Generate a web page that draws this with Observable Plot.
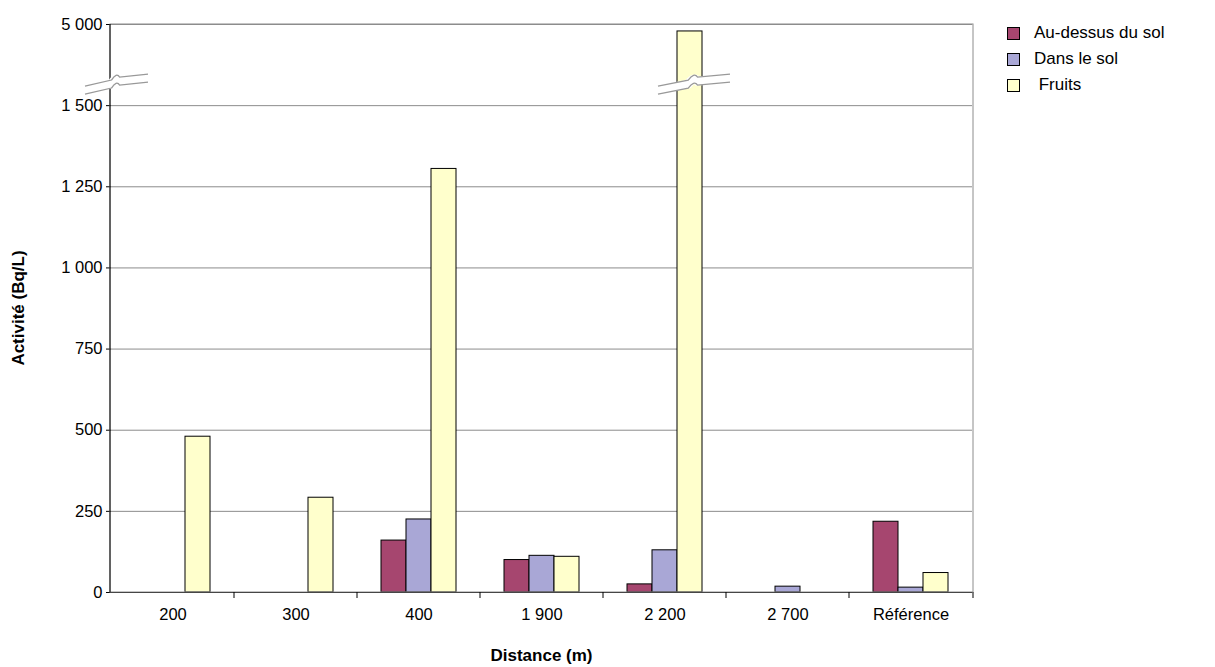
<!DOCTYPE html>
<html><head><meta charset="utf-8">
<script src="https://cdn.jsdelivr.net/npm/d3@7"></script>
<script src="https://cdn.jsdelivr.net/npm/@observablehq/plot@0.6"></script>
<style>
body{margin:0;font-family:"Liberation Sans",Arial,sans-serif;background:#fff}
#wrap{position:relative;width:1215px;height:667px}
#legend{position:absolute;left:1007px;top:20px;font-size:17px}
#legend div{display:flex;align-items:center;height:26px}
#legend span.sw{width:11px;height:11px;border:1px solid #000;margin-right:14px;display:inline-block}
</style></head><body>
<div id="wrap"><div id="legend"></div></div>
<script>
const distances = ["200", "300", "400", "1 900", "2 200", "2 700", "Référence"];
const series = ["Au-dessus du sol", "Dans le sol", "Fruits"];
const colors = ["#a6466f", "#a9a7d6", "#ffffcc"];
const aboveGround = [0, 0, 160, 100, 25, 0, 218];
const inGround = [0, 0, 225, 113, 130, 18, 15];
const fruits = [480, 292, 1305, 110, 4700, 0, 60];
const yTicks = [0, 250, 500, 750, 1000, 1250, 1500, 1750];
const yTickLabels = ["0", "250", "500", "750", "1 000", "1 250", "1 500", "5 000"];

// broken axis: above 1500, 1500..5000 squeezed into one tick step
const brk = v => v > 1500 ? 1500 + (v - 1500) / 3500 * 250 : v;
const cols = [aboveGround, inGround, fruits];
const data = [];
distances.forEach((d, i) => series.forEach((s, j) => {
  if (cols[j][i] > 0) data.push({distance: d, serie: s, value: cols[j][i], y: brk(cols[j][i])});
}));

const chart = Plot.plot({
  width: 1215, height: 667,
  marginLeft: 110, marginRight: 242, marginTop: 24, marginBottom: 75,
  style: {fontFamily: "Liberation Sans, Arial, sans-serif", fontSize: "16px", color: "#000"},
  fx: {domain: distances, padding: 0, label: null, tickSize: 0, tickPadding: 16},
  x: {domain: series, axis: null, paddingInner: 0, paddingOuter: 0.87},
  y: {domain: [0, 1750], ticks: yTicks, tickFormat: (d, i) => yTickLabels[yTicks.indexOf(d)], label: null, tickSize: 5, tickPadding: 4},
  color: {domain: series, range: colors},
  marks: [
    Plot.ruleY(yTicks.slice(1), {stroke: "#8c8c8c", strokeWidth: 1, strokeOpacity: 1}),
    Plot.barY(data, {fx: "distance", x: "serie", y: "y", fill: "serie", stroke: "#000", strokeWidth: 1}),
    Plot.ruleY([0], {stroke: "#000"})
  ]
});
document.getElementById("wrap").prepend(chart);

const svg = d3.select(chart);
svg.selectAll("text").attr("font-size", 16.5);
const fx = chart.scale("fx"), y = chart.scale("y");
const L = 110, R = 973, T = 24, B = 592;
const deco = svg.append("g");
deco.append("rect").attr("x", L).attr("y", T).attr("width", R - L).attr("height", B - T)
  .attr("fill", "none").attr("stroke", "#8c8c8c");
deco.append("line").attr("x1", L).attr("x2", L).attr("y1", T).attr("y2", B).attr("stroke", "#000");
distances.forEach(d => {
  const x0 = fx.apply(d);
  if (x0 > L + 1) deco.append("line").attr("x1", x0).attr("x2", x0).attr("y1", B).attr("y2", B + 6).attr("stroke", "#000");
});
deco.append("line").attr("x1", R).attr("x2", R).attr("y1", B).attr("y2", B + 6).attr("stroke", "#000");
svg.append("text").attr("transform", `translate(24,${(T + B) / 2}) rotate(-90)`).attr("text-anchor", "middle")
  .attr("font-weight", "bold").attr("font-size", 17).text("Activité (Bq/L)");
svg.append("text").attr("x", (L + R) / 2).attr("y", 661).attr("text-anchor", "middle")
  .attr("font-weight", "bold").attr("font-size", 17).text("Distance (m)");

// axis break marks
function breakMark(x0, x1, yc) {
  const w = x1 - x0, g = svg.append("g");
  const wave = off => `M${x0},${yc + off + 6} L${x0 + w * 0.42},${yc + off} Q${x0 + w * 0.5},${yc + off - 8} ${x0 + w * 0.55},${yc + off - 3} L${x1},${yc + off - 6}`;
  g.append("path").attr("d", wave(0)).attr("stroke", "#fff").attr("stroke-width", 9).attr("fill", "none");
  g.append("path").attr("d", wave(-4)).attr("stroke", "#999").attr("stroke-width", 1.3).attr("fill", "none");
  g.append("path").attr("d", wave(4)).attr("stroke", "#999").attr("stroke-width", 1.3).attr("fill", "none");
}
const yb = y.apply(1565);
breakMark(85, 148, yb);
breakMark(fx.apply("2 200") + 55, fx.apply("2 200") + 127, yb);

const lg = d3.select("#legend");
series.forEach((s, i) => {
  const row = lg.append("div");
  row.append("span").attr("class", "sw").style("background", colors[i]);
  row.append("span").text(i === 2 ? "\u00a0Fruits" : s);
});
</script>
</body></html>
